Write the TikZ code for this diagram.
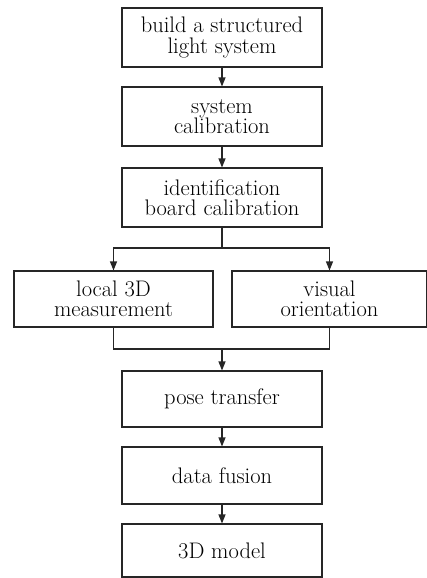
\documentclass[tikz,border=0pt]{standalone}
\usetikzlibrary{arrows.meta}
\begin{document}
\begin{tikzpicture}[x=1pt,y=1pt,
  box/.style={draw=black!85,line width=1.1pt,minimum width=200pt,align=center,inner sep=0pt,
    font=\fontsize{22.5}{20.5}\selectfont,text=black},
  link/.style={draw=black!85,line width=1.1pt},
  arr/.style={link,-{Triangle[length=9pt,width=7pt]}}]
\useasboundingbox (0,0) rectangle (427,-578);
\node[box,minimum height=59pt] (b1) at (222,-37.5) {build a structured\\light system};
\node[box,minimum height=59pt] (b2) at (222,-116.5) {system\\calibration};
\node[box,minimum height=59pt] (b3) at (222,-197.5) {identification\\board calibration};
\node[box,minimum width=199pt,minimum height=56pt] (l) at (113.5,-299) {local 3D\\measurement};
\node[box,minimum width=195pt,minimum height=56pt] (r) at (329.5,-299) {visual\\orientation};
\node[box,minimum height=56pt] (p) at (222,-399) {pose transfer};
\node[box,minimum height=57pt] (f) at (222,-475.5) {data fusion};
\node[box,minimum height=53pt] (m) at (222,-550.5) {3D model};
\coordinate (s) at (222,-248);
\coordinate (j) at (222,-349);
\draw[arr] (b1) -- (b2);
\draw[arr] (b2) -- (b3);
\draw[link] (b3.south) -- (s);
\draw[arr] (s) -| (l.north);
\draw[arr] (s) -| (r.north);
\draw[link] (l.south) |- (j) -| (r.south);
\draw[arr] (j) -- (p.north);
\draw[arr] (p) -- (f);
\draw[arr] (f) -- (m);
\end{tikzpicture}
\end{document}
